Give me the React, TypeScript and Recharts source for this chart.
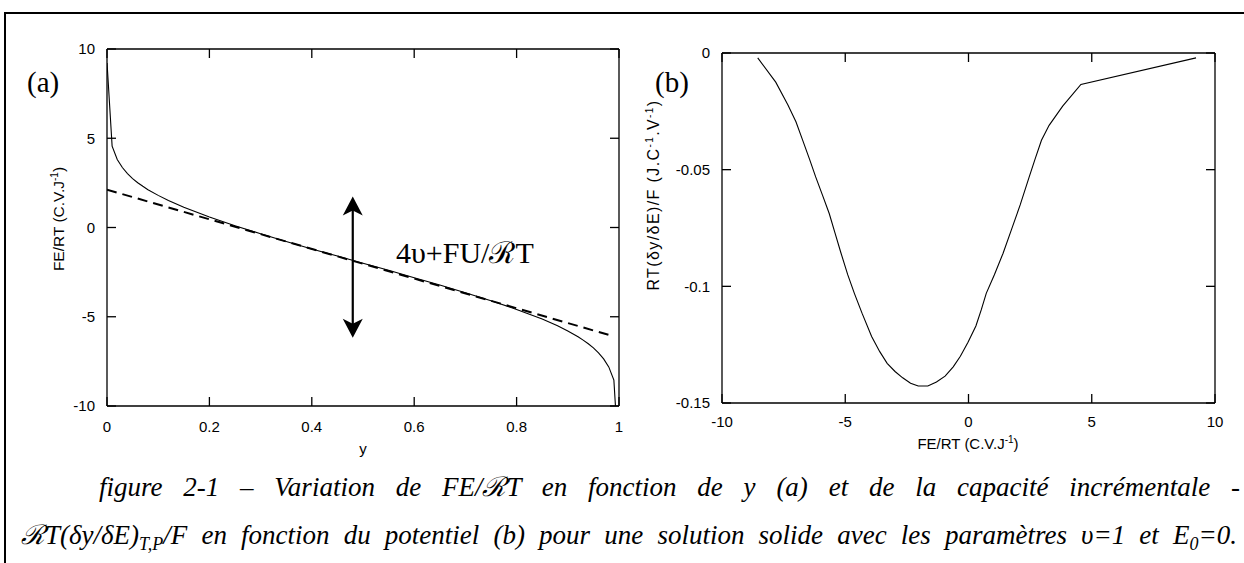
import React from 'react';
import { LineChart, Line, XAxis, YAxis, ReferenceLine } from 'recharts';

// (a) FE/RT versus y for the solid solution
const yFrac = [
  0.0001, 0.01, 0.02, 0.03, 0.04, 0.05, 0.06, 0.07, 0.08, 0.1, 0.12, 0.15, 0.2, 0.25, 0.3, 0.35, 0.4,
  0.45, 0.5, 0.55, 0.6, 0.65, 0.7, 0.75, 0.8, 0.85, 0.88, 0.9, 0.92, 0.93, 0.94, 0.95, 0.96, 0.97,
  0.98, 0.99, 0.9999,
];
const feRT = [
  9.21, 4.56, 3.81, 3.36, 3.02, 2.74, 2.51, 2.31, 2.12, 1.8, 1.51, 1.13, 0.59, 0.1, -0.35, -0.78, -1.2,
  -1.6, -2, -2.4, -2.81, -3.22, -3.65, -4.1, -4.59, -5.13, -5.51, -5.8, -6.12, -6.31, -6.51, -6.74,
  -7.02, -7.36, -7.81, -8.55, -13.21,
];
// dashed tangent line
const tangentY = [0, 0.99];
const tangentFE = [2.12, -6.1];

// (b) incremental capacity versus potential
const potential = [
  -8.55, -7.82, -7.33, -7.0, -6.74, -6.45, -6.2, -5.92, -5.65, -5.42, -5.18, -4.9, -4.63, -4.32, -3.93,
  -3.6, -3.3, -2.98, -2.67, -2.35, -2.04, -1.65, -1.3, -0.95, -0.62, -0.33, -0.02, 0.3, 0.52, 0.72,
  1.05, 1.4, 1.75, 2.1, 2.45, 2.7, 2.96, 3.27, 3.82, 4.56, 9.23,
];
const capacity = [
  -0.0021, -0.0125, -0.0222, -0.0295, -0.037, -0.0455, -0.0531, -0.061, -0.0688, -0.077, -0.0855,
  -0.095, -0.103, -0.1115, -0.1215, -0.128, -0.133, -0.1365, -0.1392, -0.1415, -0.1427, -0.1427,
  -0.141, -0.1385, -0.1345, -0.13, -0.124, -0.117, -0.11, -0.103, -0.095, -0.0859, -0.0755, -0.065,
  -0.0535, -0.0455, -0.0374, -0.031, -0.0228, -0.0135, -0.0021,
];

const xTicksA = [0, 0.2, 0.4, 0.6, 0.8, 1];
const yTicksA = [-10, -5, 0, 5, 10];
const xTicksB = [-10, -5, 0, 5, 10];
const yTicksB = [-0.15, -0.1, -0.05, 0];

const curveA = yFrac.map((y, i) => ({ y, fe: feRT[i] }));
const lineA = tangentY.map((y, i) => ({ y, fe: tangentFE[i] }));
const curveB = potential.map((e, i) => ({ e, c: capacity[i] }));

const SANS = '"Liberation Sans", Arial, sans-serif';
const SERIF = '"Liberation Serif", "Times New Roman", serif';
const tickStyle = { fill: '#000', fontSize: 15, fontFamily: SANS };
const axisLine = { stroke: '#000', strokeWidth: 1.3 };
const TICK = 9;

const fmtB = (v: number) => (v === 0 ? '0' : String(v));

// inward tick marks at both ends of a reference line
const VTicks = (p: any) => {
  const top = Math.min(p.y1, p.y2);
  const bot = Math.max(p.y1, p.y2);
  return (
    <g stroke="#000" strokeWidth={1.3}>
      <line x1={p.x1} x2={p.x1} y1={top} y2={top + TICK} />
      <line x1={p.x1} x2={p.x1} y1={bot - TICK} y2={bot} />
    </g>
  );
};
const HTicks = (p: any) => {
  const l = Math.min(p.x1, p.x2);
  const r = Math.max(p.x1, p.x2);
  return (
    <g stroke="#000" strokeWidth={1.3}>
      <line x1={l} x2={l + TICK} y1={p.y1} y2={p.y1} />
      <line x1={r - TICK} x2={r} y1={p.y1} y2={p.y1} />
    </g>
  );
};

// double-headed arrow drawn on the reference segment
const ArrowShape = (p: any) => {
  const x = p.x1;
  const top = Math.min(p.y1, p.y2);
  const bot = Math.max(p.y1, p.y2);
  const h = 19;
  const w = 10;
  return (
    <g>
      <line x1={x} y1={top + 12} x2={x} y2={bot - 12} stroke="#000" strokeWidth={2.2} />
      <polygon points={`${x},${top} ${x + w},${top + h} ${x},${top + h - 5} ${x - w},${top + h}`} fill="#000" />
      <polygon points={`${x},${bot} ${x + w},${bot - h} ${x},${bot - h + 5} ${x - w},${bot - h}`} fill="#000" />
    </g>
  );
};

// frame (all four sides) plus tick marks
const frame = (xDomain: number[], xTicks: number[], yDomain: number[], yTicks: number[]) => [
  <XAxis key="ft" xAxisId="ft" orientation="top" mirror type="number" domain={xDomain} height={1}
    allowDataOverflow axisLine={axisLine} tick={false} tickLine={false} />,
  <YAxis key="fr" yAxisId="fr" orientation="right" mirror type="number" domain={yDomain} width={1}
    allowDataOverflow axisLine={axisLine} tick={false} tickLine={false} />,
  ...xTicks.map((v) => <ReferenceLine key={`x${v}`} xAxisId="b" yAxisId="l" x={v} shape={VTicks} />),
  ...yTicks.map((v) => <ReferenceLine key={`y${v}`} xAxisId="b" yAxisId="l" y={v} shape={HTicks} />),
];

const abs = (left: number, top: number, extra: React.CSSProperties = {}): React.CSSProperties => ({
  position: 'absolute',
  left,
  top,
  whiteSpace: 'nowrap',
  ...extra,
});

const sup: React.CSSProperties = { fontSize: 10, verticalAlign: 'super', lineHeight: 0 };
const sub: React.CSSProperties = { fontSize: 18, verticalAlign: 'sub', lineHeight: 0 };

export default function App() {
  return (
    <div style={{ position: 'absolute', left: 0, top: 0, width: 1244, height: 563, background: '#fff', overflow: 'hidden' }}>
      {/* frame */}
      <div style={{ position: 'absolute', left: 4, top: 12, width: 1240, height: 551, borderTop: '2px solid #000', borderLeft: '2px solid #000' }} />

      {/* chart (a) */}
      <div style={{ position: 'absolute', left: 0, top: 0 }}>
        <LineChart width={640} height={470} margin={{ top: 49, right: 21, bottom: 63, left: 106 }}>
          <XAxis xAxisId="b" type="number" dataKey="y" domain={[0, 1]} ticks={xTicksA} height={1}
            allowDataOverflow axisLine={axisLine} tickLine={false} tickSize={0} tickMargin={15} tick={tickStyle} />
          <YAxis yAxisId="l" type="number" domain={[-10, 10]} ticks={yTicksA} width={1}
            allowDataOverflow axisLine={axisLine} tickLine={false} tickSize={0} tickMargin={12} tick={tickStyle} />
          {frame([0, 1], xTicksA, [-10, 10], yTicksA)}
          <Line xAxisId="b" yAxisId="l" data={lineA} dataKey="fe" type="linear" stroke="#000" strokeWidth={2}
            strokeDasharray="10 6" dot={false} isAnimationActive={false} />
          <Line xAxisId="b" yAxisId="l" data={curveA} dataKey="fe" type="linear" stroke="#000" strokeWidth={1.1}
            dot={false} isAnimationActive={false} />
          <ReferenceLine xAxisId="b" yAxisId="l" segment={[{ x: 0.48, y: 1.73 }, { x: 0.48, y: -6.17 }]} shape={ArrowShape} />
        </LineChart>
      </div>

      {/* chart (b) */}
      <div style={{ position: 'absolute', left: 640, top: 0 }}>
        <LineChart width={604} height={470} margin={{ top: 53, right: 29, bottom: 66, left: 81 }}>
          <XAxis xAxisId="b" type="number" dataKey="e" domain={[-10, 10]} ticks={xTicksB} height={1}
            allowDataOverflow axisLine={axisLine} tickLine={false} tickSize={0} tickMargin={13} tick={tickStyle} />
          <YAxis yAxisId="l" type="number" domain={[-0.15, 0]} ticks={yTicksB} width={1} tickFormatter={fmtB}
            allowDataOverflow axisLine={axisLine} tickLine={false} tickSize={0} tickMargin={12} tick={tickStyle} />
          {frame([-10, 10], xTicksB, [-0.15, 0], yTicksB)}
          <Line xAxisId="b" yAxisId="l" data={curveB} dataKey="c" type="linear" stroke="#000" strokeWidth={1.1}
            dot={false} isAnimationActive={false} />
        </LineChart>
      </div>

      {/* panel letters and annotation */}
      <div style={abs(27, 64, { fontFamily: SERIF, fontSize: 29, lineHeight: '36px' })}>(a)</div>
      <div style={abs(655, 64, { fontFamily: SERIF, fontSize: 29, lineHeight: '36px' })}>(b)</div>
      <div style={abs(396, 235, { fontFamily: SERIF, fontSize: 30, lineHeight: '36px' })}>4υ+FU/ℛT</div>

      {/* axis titles */}
      <div style={abs(363, 448, { fontFamily: SANS, fontSize: 15, transform: 'translate(-50%, -50%)' })}>y</div>
      <div style={abs(59, 219, { fontFamily: SANS, fontSize: 15.5, transform: 'translate(-50%, -50%) rotate(-90deg)' })}>
        FE/RT (C.V.J<span style={sup}>-1</span>)
      </div>
      <div style={abs(968, 443, { fontFamily: SANS, fontSize: 15, transform: 'translate(-50%, -50%)' })}>
        FE/RT (C.V.J<span style={sup}>-1</span>)
      </div>
      <div style={abs(654, 195, { fontFamily: SANS, fontSize: 16, letterSpacing: 1.4, transform: 'translate(-50%, -50%) rotate(-90deg)' })}>
        RT(δy/δE)/F (J.C<span style={sup}>-1</span>.V<span style={sup}>-1</span>)
      </div>

      {/* caption */}
      <div style={{ position: 'absolute', left: 99, top: 470, width: 1141, fontFamily: SERIF, fontStyle: 'italic', fontSize: 27, lineHeight: '34px', textAlign: 'justify', textAlignLast: 'justify', whiteSpace: 'nowrap' }}>
        figure 2-1 – Variation de FE/ℛT en fonction de y (a) et de la capacité incrémentale -
      </div>
      <div style={{ position: 'absolute', left: 21, top: 518, width: 1216, fontFamily: SERIF, fontStyle: 'italic', fontSize: 27, lineHeight: '34px', textAlign: 'justify', textAlignLast: 'justify' }}>
        ℛT(δy/δE)<span style={sub}>T,P</span>/F en fonction du potentiel (b) pour une solution solide avec les paramètres υ=1 et E<span style={sub}>0</span>=0.
      </div>
    </div>
  );
}
